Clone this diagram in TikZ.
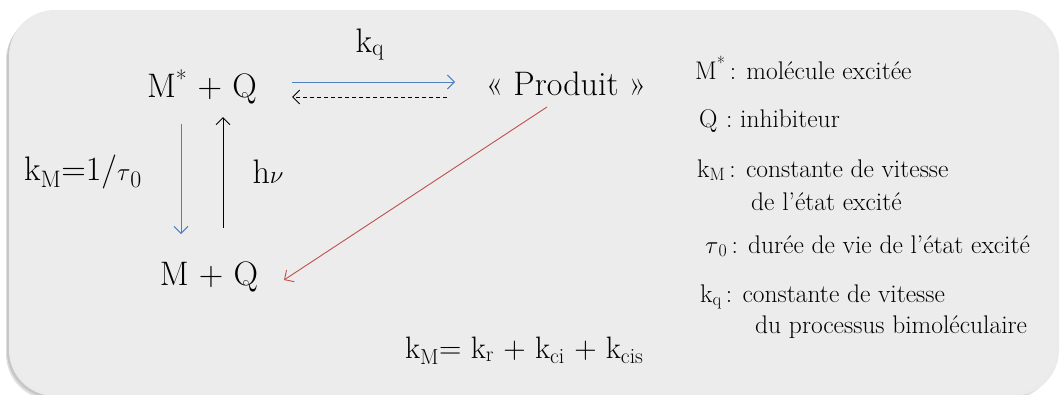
\documentclass[tikz,border=0pt]{standalone}
\usepackage{fontspec}
\usetikzlibrary{arrows.meta}
\definecolor{boxfill}{HTML}{ECECEC}
\definecolor{arrblue}{HTML}{4F81BD}
\definecolor{arrred}{HTML}{C0504D}
\newcommand{\tz}{\ensuremath{\tau}}
\tikzset{
  big/.style={font=\fontsize{34}{38}\selectfont, inner sep=0pt},
  leg/.style={font=\fontsize{25.5}{30}\selectfont, inner sep=0pt, anchor=base west},
  conn/.style={line width=0.9pt, -{Straight Barb[length=7pt,width=14pt]}},
}
\begin{document}
\begin{tikzpicture}[x=1pt,y=-1pt]
\useasboundingbox (0,0) rectangle (1060,394);
\fill[white] (0,0) rectangle (1060,394);
% shadow
\fill[black!12,rounded corners=46pt] (6,14) rectangle (1054,400);
\fill[black!22,rounded corners=46pt] (7,13) rectangle (1054,398);
\fill[black!8,rounded corners=46pt] (9,10) rectangle (1059,396);
\fill[boxfill,rounded corners=45pt] (11,11) rectangle (1056,393);

% main nodes
\node[big,anchor=base] (ms) at (202,97) {M\textsuperscript{*} + Q};
\node[big,anchor=base] (prod) at (566,95) {«~Produit~»};
\node[big,anchor=base] (mq) at (209,285) {M + Q};
\node[big,anchor=base] (kq) at (370,52) {k\textsubscript{q}};
\node[big,anchor=base] (km) at (83,180) {k\textsubscript{M}=1/\tz\textsubscript{0}};
\node[big,anchor=base] (hv) at (268,183) {h$\nu$};

% arrow end points
\coordinate (a1) at (292,82);  \coordinate (a2) at (455,82);
\coordinate (b1) at (447,97);  \coordinate (b2) at (292,97);
\coordinate (c1) at (181,124); \coordinate (c2) at (181,234);
\coordinate (d1) at (223,228); \coordinate (d2) at (223,117);
\coordinate (e1) at (547,107); \coordinate (e2) at (284,280);

\draw[conn,arrblue] (a1) -- (a2);
\draw[conn,black,dashed,dash pattern=on 4pt off 3pt] (b1) -- (b2);
\draw[conn,arrblue] (c1) -- (c2);
\draw[conn,black] (d1) -- (d2);
\draw[conn,arrred] (e1) -- (e2);

% legend
\node[leg] (l1) at (695,79) {M\textsuperscript{*}\,: molécule excitée};
\node[leg] (l2) at (699,127) {Q\,\,: inhibiteur};
\node[leg] (l3) at (697,177) {k\textsubscript{M}\,: constante de vitesse};
\node[leg] (l4) at (751,210) {de l’état excité};
\node[leg] (l5) at (705,253) {\tz\textsubscript{0}\,: durée de vie de l’état excité};
\node[leg] (l6) at (700,302) {k\textsubscript{q}\,: constante de vitesse};
\node[leg] (l7) at (755,333) {du processus bimoléculaire};

\node[anchor=base west,inner sep=0pt,font=\fontsize{31}{36}\selectfont] (form) at (405,358) {k\textsubscript{M}= k\textsubscript{r} + k\textsubscript{ci} + k\textsubscript{cis}};
\end{tikzpicture}
\end{document}
